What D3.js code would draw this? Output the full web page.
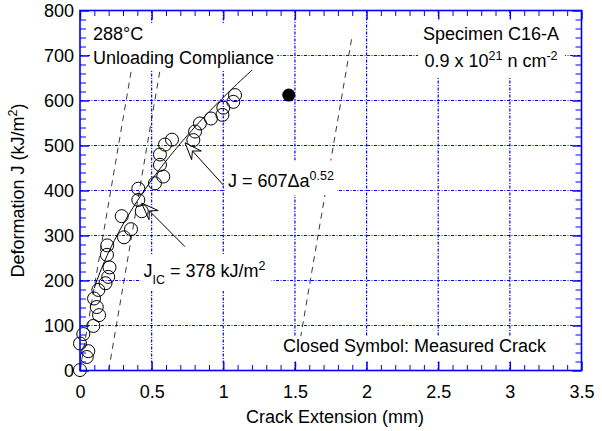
<!DOCTYPE html>
<html><head><meta charset="utf-8">
<script src="https://cdn.jsdelivr.net/npm/d3@7"></script>
<style>
body{margin:0;background:#fff;}
svg{display:block;font-family:"Liberation Sans",Arial,Helvetica,sans-serif;}
</style></head><body>
<svg id="chart" width="602" height="431"></svg>
<script>
// ---- data ----
const crackExt = [0.00, 0.047, 0.058, 0.00, 0.023, 0.093, 0.133, 0.117, 0.098, 0.128, 0.178, 0.197, 0.206, 0.188, 0.190,
                  0.307, 0.356, 0.291, 0.431, 0.407, 0.407, 0.523, 0.581, 0.558, 0.558, 0.593, 0.642, 0.791, 0.803,
                  0.837, 0.914, 0.994, 1.000, 1.070, 1.082];
const deformJ  = [1, 30, 43, 60, 81, 99, 123, 141, 160, 179, 194, 208, 229, 257, 278,
                  296, 314, 343, 354, 379, 404, 416, 431, 457, 480, 502, 513, 512, 531,
                  549, 560, 568, 584, 597, 612];
const measuredCrack = [1.457];
const measuredJ = [612];
// power-law fit annotated on the chart: J = 607 Δa^0.52
const fitCoef = 607, fitExp = 0.52;
const fitRange = [0.10, 1.25];
// construction (blunting / exclusion) lines: Δa at J = 0 and at J = 745
const lineStartA = [0.00, 0.20, 1.50];
const lineEndA   = [0.40, 0.60, 1.90];
const lineJ      = [0, 745];
// axes
const xMajor = [0, 0.5, 1, 1.5, 2, 2.5, 3, 3.5];
const xTickLabels = ["0", "0.5", "1", "1.5", "2", "2.5", "3", "3.5"];
const yMajor = [0, 100, 200, 300, 400, 500, 600, 700, 800];
const yTickLabels = ["0", "100", "200", "300", "400", "500", "600", "700", "800"];
const xGrid = [0.5, 1, 1.5, 2, 2.5, 3];
const yGrid = [100, 200, 300, 400, 500, 600, 700];

// ---- layout ----
const W = 602, H = 431;
const L = 80, R = 581.5, T = 10.5, B = 370.5;
const BLUE = "#0000ff";
const FS = 18;

const svg = d3.select("#chart");
const x = d3.scaleLinear().domain([0, 3.5]).range([L, R]);
const y = d3.scaleLinear().domain([0, 800]).range([B, T]);

// grid
const grid = svg.append("g");
grid.selectAll("line.gx").data(xGrid).join("line")
  .attr("x1", d => x(d)).attr("x2", d => x(d)).attr("y1", T).attr("y2", B)
  .attr("stroke", BLUE).attr("stroke-width", 1.2).attr("stroke-dasharray", "3,1.5,1,1.5");
grid.selectAll("line.gy").data(yGrid).join("line")
  .attr("y1", d => y(d)).attr("y2", d => y(d)).attr("x1", L).attr("x2", R)
  .attr("stroke", BLUE).attr("stroke-width", 1.2).attr("stroke-dasharray", "3,1.5,1,1.5");

// construction lines
svg.append("g").selectAll("line").data(lineStartA).join("line")
  .attr("x1", (d) => x(d)).attr("y1", y(lineJ[0]))
  .attr("x2", (d, i) => x(lineEndA[i])).attr("y2", y(lineJ[1]))
  .attr("stroke", "#222").attr("stroke-width", 0.9).attr("stroke-dasharray", "6,5");

// fit curve
const fitPts = d3.range(fitRange[0], fitRange[1] + 1e-9, 0.01).map(a => [a, fitCoef * Math.pow(a, fitExp)]);
svg.append("path").datum(fitPts)
  .attr("d", d3.line().x(d => x(d[0])).y(d => y(d[1])))
  .attr("fill", "none").attr("stroke", "#000").attr("stroke-width", 1);

// ---- labels with white background boxes ----
function boxed(build, pad) {
  const g = svg.append("g");
  const rect = g.append("rect").attr("fill", "#fff");
  const t = g.append("g");
  build(t);
  const bb = t.node().getBBox();
  rect.attr("x", bb.x - pad[3]).attr("y", bb.y - pad[0])
      .attr("width", bb.width + pad[1] + pad[3]).attr("height", bb.height + pad[0] + pad[2]);
  return g;
}

boxed(g => {
  g.append("text").attr("x", 93).attr("y", 40).attr("font-size", FS).text("288°C");
  g.append("text").attr("x", 93).attr("y", 64).attr("font-size", FS).text("Unloading Compliance");
}, [0, 3, 2, 2]);

boxed(g => {
  g.append("text").attr("x", 491).attr("y", 40).attr("text-anchor", "middle").attr("font-size", FS).text("Specimen C16-A");
  const t2 = g.append("text").attr("x", 491).attr("y", 67).attr("text-anchor", "middle").attr("font-size", FS);
  t2.append("tspan").text("0.9 x 10");
  t2.append("tspan").attr("font-size", 12.5).attr("dy", -7).text("21");
  t2.append("tspan").attr("dy", 7).text(" n cm");
  t2.append("tspan").attr("font-size", 12.5).attr("dy", -7).text("-2");
}, [8, 6, 7, 5]);

boxed(g => {
  const t = g.append("text").attr("x", 228).attr("y", 187).attr("font-size", FS);
  t.append("tspan").text("J = 607Δa");
  t.append("tspan").attr("font-size", 12.5).attr("dy", -7.5).text("0.52");
}, [8, 3, 4, 3]);

boxed(g => {
  const t = g.append("text").attr("x", 143.5).attr("y", 277).attr("font-size", FS);
  t.append("tspan").text("J");
  t.append("tspan").attr("font-size", 12.5).attr("dy", 7).text("IC");
  t.append("tspan").attr("dy", -7).text(" = 378 kJ/m");
  t.append("tspan").attr("font-size", 12.5).attr("dy", -7.5).text("2");
}, [4, 6, 4, 3]);

boxed(g => {
  g.append("text").attr("x", 283).attr("y", 352).attr("font-size", FS).text("Closed Symbol: Measured Crack");
}, [0, 4, 6, 3]);

// ---- arrows (open dart heads) ----
const arrows = [
  {tip: [0.733, 506], tail: [223.3, 185]},
  {tip: [0.430, 372], tail: [185, 246.7]}
];
arrows.forEach(a => {
  const tx = x(a.tip[0]), ty = y(a.tip[1]);
  const dx = a.tail[0] - tx, dy = a.tail[1] - ty;
  const len = Math.hypot(dx, dy);
  const ux = dx / len, uy = dy / len, px = -uy, py = ux;
  const back = 17, half = 6.5, notch = 11;
  svg.append("line")
    .attr("x1", tx + notch * ux).attr("y1", ty + notch * uy)
    .attr("x2", a.tail[0]).attr("y2", a.tail[1])
    .attr("stroke", "#000").attr("stroke-width", 1);
  const pts = [
    [tx, ty],
    [tx + back * ux + half * px, ty + back * uy + half * py],
    [tx + notch * ux, ty + notch * uy],
    [tx + back * ux - half * px, ty + back * uy - half * py]
  ];
  svg.append("path").attr("d", "M" + pts.map(p => p.join(",")).join("L") + "Z")
    .attr("fill", "#fff").attr("stroke", "#000").attr("stroke-width", 1);
});

// ---- data points ----
svg.append("g").selectAll("circle").data(crackExt).join("circle")
  .attr("cx", d => x(d)).attr("cy", (d, i) => y(deformJ[i])).attr("r", 6.5)
  .attr("fill", "none").attr("stroke", "#000").attr("stroke-width", 1);
svg.append("g").selectAll("circle").data(measuredCrack).join("circle")
  .attr("cx", d => x(d)).attr("cy", (d, i) => y(measuredJ[i])).attr("r", 6.5)
  .attr("fill", "#000");

// ---- axes (ticks inside on all sides) ----
const xMinor = d3.range(0, 3.5001, 0.1).filter(v => Math.abs(v * 2 - Math.round(v * 2)) > 1e-6);
const yMinor = d3.range(0, 800.01, 20).filter(v => v % 100 !== 0);
function styleAxis(g) {
  g.select(".domain").remove();
  g.selectAll(".tick line").attr("stroke", BLUE);
  g.selectAll(".tick text").attr("fill", "#000").attr("font-size", FS)
    .attr("font-family", '"Liberation Sans",Arial,Helvetica,sans-serif');
}
// major
svg.append("g").attr("transform", `translate(0,${B})`)
  .call(d3.axisBottom(x).tickValues(xMajor).tickSize(-9).tickPadding(15).tickFormat((d, i) => xTickLabels[i]))
  .call(styleAxis).call(g => g.selectAll(".tick line").attr("stroke-width", 1.4));
svg.append("g").attr("transform", `translate(0,${T})`)
  .call(d3.axisTop(x).tickValues(xMajor).tickSize(-9).tickFormat(""))
  .call(styleAxis).call(g => g.selectAll(".tick line").attr("stroke-width", 1.4));
svg.append("g").attr("transform", `translate(${L},0)`)
  .call(d3.axisLeft(y).tickValues(yMajor).tickSize(-9).tickPadding(6).tickFormat((d, i) => yTickLabels[i]))
  .call(styleAxis).call(g => g.selectAll(".tick line").attr("stroke-width", 1.4));
svg.append("g").attr("transform", `translate(${R},0)`)
  .call(d3.axisRight(y).tickValues(yMajor).tickSize(-9).tickFormat(""))
  .call(styleAxis).call(g => g.selectAll(".tick line").attr("stroke-width", 1.4));
// minor
svg.append("g").attr("transform", `translate(0,${B})`)
  .call(d3.axisBottom(x).tickValues(xMinor).tickSize(-5.5).tickFormat("")).call(styleAxis);
svg.append("g").attr("transform", `translate(0,${T})`)
  .call(d3.axisTop(x).tickValues(xMinor).tickSize(-5.5).tickFormat("")).call(styleAxis);
svg.append("g").attr("transform", `translate(${L},0)`)
  .call(d3.axisLeft(y).tickValues(yMinor).tickSize(-6).tickFormat("")).call(styleAxis);
svg.append("g").attr("transform", `translate(${R},0)`)
  .call(d3.axisRight(y).tickValues(yMinor).tickSize(-6).tickFormat("")).call(styleAxis);

// frame
svg.append("rect").attr("x", L).attr("y", T).attr("width", R - L).attr("height", B - T)
  .attr("fill", "none").attr("stroke", BLUE).attr("stroke-width", 1.6);

// axis titles
svg.append("text").attr("x", 335).attr("y", 423).attr("text-anchor", "middle")
  .attr("font-size", FS).text("Crack Extension (mm)");
const yt = svg.append("text").attr("transform", `translate(24,${(T + B) / 2}) rotate(-90)`)
  .attr("text-anchor", "middle").attr("font-size", FS);
yt.append("tspan").text("Deformation J (kJ/m");
yt.append("tspan").attr("font-size", 12.5).attr("dy", -7).text("2");
yt.append("tspan").attr("dy", 7).text(")");
</script>
</body></html>
